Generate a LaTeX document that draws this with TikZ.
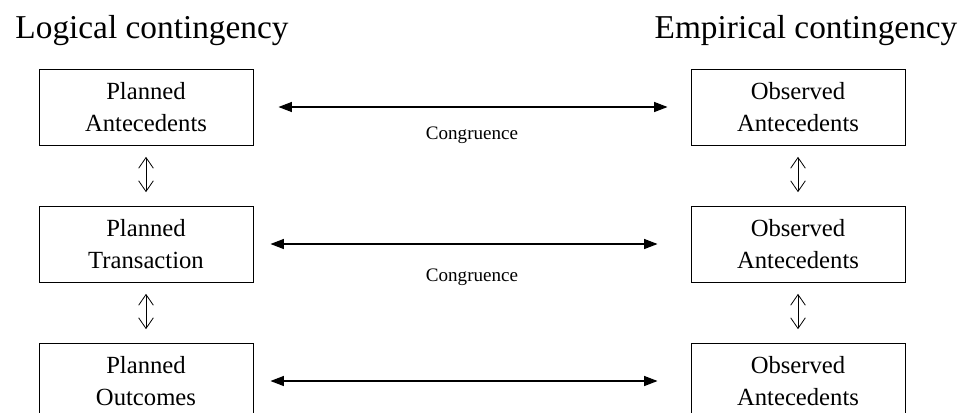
\documentclass[tikz,border=0pt]{standalone}
\usepackage{fontspec}
\setmainfont{Liberation Serif}
\usetikzlibrary{arrows.meta,positioning}

\begin{document}
\begin{tikzpicture}[
    node distance=45pt and 327.75pt,
    box/.style={rectangle, draw, line width=0.75pt, minimum width=160.5pt, minimum height=57pt, align=center, inner sep=2pt, font=\fontsize{18.5pt}{24pt}\selectfont},
    heading/.style={inner sep=0pt, font=\fontsize{25pt}{30pt}\selectfont},
    note/.style={inner sep=0pt, font=\fontsize{14.3pt}{17pt}\selectfont},
    congr/.style={{Triangle[length=10pt,width=7.5pt]}-{Triangle[length=10pt,width=7.5pt]}, line width=0.8pt},
    link/.style={{Straight Barb[length=8pt,width=11pt]}-{Straight Barb[length=8pt,width=11pt]}, line width=0.6pt, shorten <=8.5pt, shorten >=10pt}
]
\useasboundingbox (0,0) rectangle (724.5pt,-309pt);
\clip (0,0) rectangle (724.5pt,-309pt);

\node[box] (pa) at (109.5pt,-80.25pt) {Planned\\Antecedents};
\node[box, below=of pa] (pt) {Planned\\Transaction};
\node[box, below=of pt] (po) {Planned\\Outcomes};
\node[box, right=of pa] (oa) {Observed\\Antecedents};
\node[box, right=of pt] (ot) {Observed\\Antecedents};
\node[box, right=of po] (oo) {Observed\\Antecedents};

\node[heading, above=17pt of pa, xshift=4.5pt] (logic) {Logical contingency};
\node[heading, above=17pt of oa, xshift=6pt] (empir) {Empirical contingency};

\draw[congr, shorten <=18.75pt, shorten >=17.25pt] (pa) -- node[note, below=14.5pt] {Congruence} (oa);
\draw[congr, shorten <=12.75pt, shorten >=24.75pt] (pt) -- node[note, below=18pt] {Congruence} (ot);
\draw[congr, shorten <=12.75pt, shorten >=24.75pt] (po) -- (oo);

\draw[link] (pa) -- (pt);
\draw[link] (pt) -- (po);
\draw[link] (oa) -- (ot);
\draw[link] (ot) -- (oo);
\end{tikzpicture}
\end{document}
